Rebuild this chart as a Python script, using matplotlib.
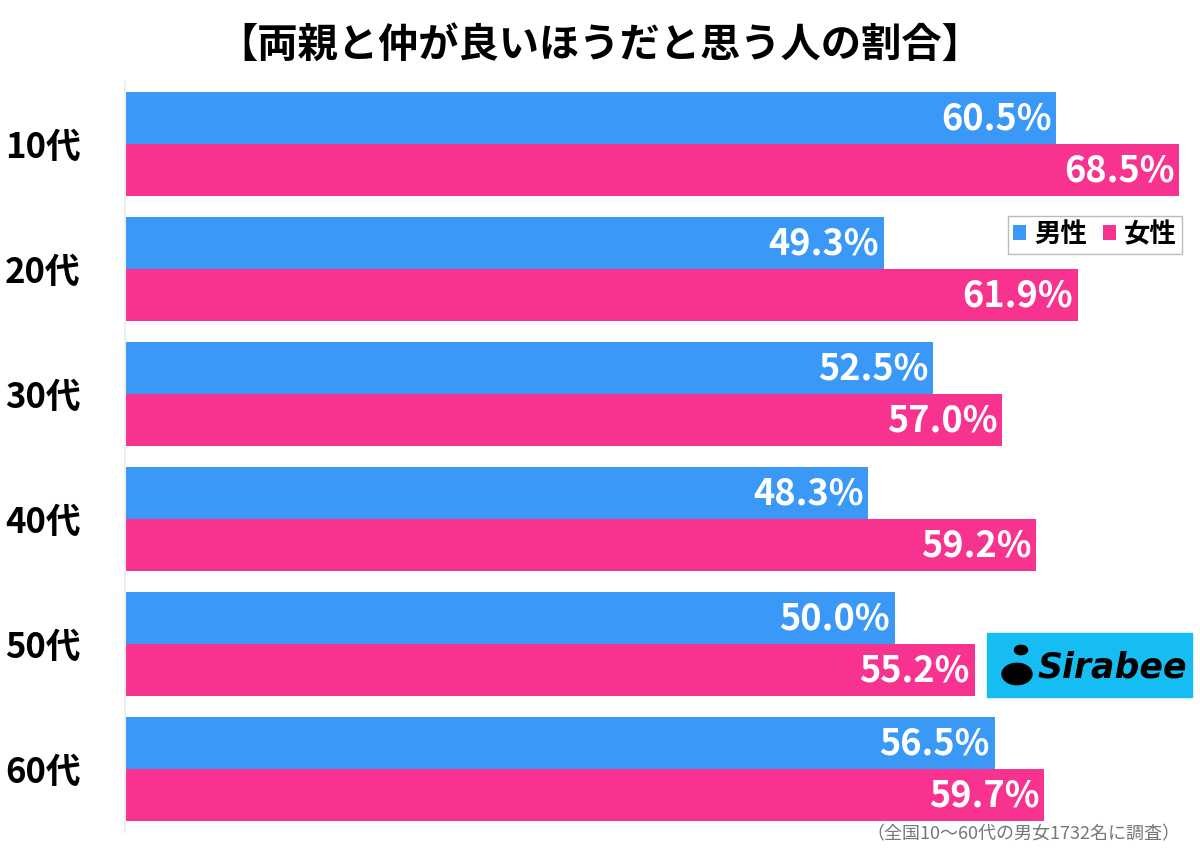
import matplotlib
matplotlib.use('Agg')
import matplotlib.pyplot as plt
from matplotlib.patches import Rectangle, Circle
import numpy as np

plt.rcParams['font.family'] = ['Noto Sans CJK JP', 'DejaVu Sans']

# データ
ages = ['10代', '20代', '30代', '40代', '50代', '60代']
male = [60.5, 49.3, 52.5, 48.3, 50.0, 56.5]
female = [68.5, 61.9, 57.0, 59.2, 55.2, 59.7]
title = '【両親と仲が良いほうだと思う人の割合】'
note = '（全国10～60代の男女1732名に調査）'

blue = '#3a98f7'
pink = '#f7338f'

fig = plt.figure(figsize=(12, 8.56), dpi=100)
ax = fig.add_axes([125 / 1200, 1 - 831.5 / 856, (1190 - 125) / 1200, 750 / 856])

y = np.arange(len(ages))
h = 0.416
ax.barh(y - h / 2, male, height=h, color=blue)
ax.barh(y + h / 2, female, height=h, color=pink)

for i in range(len(ages)):
    ax.text(male[i] - 0.3, y[i] - h / 2 + 0.01, f'{male[i]:.1f}%', color='white',
            ha='right', va='center', fontsize=26, fontweight='bold')
    ax.text(female[i] - 0.3, y[i] + h / 2 + 0.01, f'{female[i]:.1f}%', color='white',
            ha='right', va='center', fontsize=26, fontweight='bold')

ax.set_xlim(0, 69.2)
ax.set_ylim(5.5, -0.5)
ax.set_xticks([])
ax.set_yticks(y)
ax.set_yticklabels(ages, fontsize=25, fontweight='bold')
ax.tick_params(axis='y', length=0, pad=32)
for s in ['top', 'right', 'bottom']:
    ax.spines[s].set_visible(False)
ax.spines['left'].set_color('#eeeeee')
ax.spines['left'].set_linewidth(1.5)

fig.text(0.5, 1 - 45 / 856, title, ha='center', va='center', fontsize=29, fontweight='bold')
fig.text(1180 / 1200, 1 - 834 / 856, note, ha='right', va='center', fontsize=13, color='#777777')

# 凡例
leg = ax.legend(['男性', '女性'], loc='upper right', bbox_to_anchor=(1182 / 1200, 1 - 216 / 856),
                bbox_transform=fig.transFigure, prop={'weight': 'bold', 'size': 19},
                ncol=2, handlelength=0.5, handleheight=0.5, handletextpad=0.3, columnspacing=0.6,
                frameon=True, fancybox=False, edgecolor='#aaaaaa', borderpad=0.2,
                borderaxespad=0)

# ロゴ
fig.patches.append(Rectangle((987 / 1200, 1 - 697 / 856), 205 / 1200, 64 / 856,
                             transform=fig.transFigure, color='#16bdf2', zorder=5))
fig.patches.append(Circle((1017 / 1200, 1 - 674 / 856), 0.0125, transform=fig.transFigure,
                          color='black', zorder=6))
fig.patches.append(Circle((1021 / 1200, 1 - 650 / 856), 0.0055, transform=fig.transFigure,
                          color='black', zorder=6))
fig.text(1112 / 1200, 1 - 667 / 856, 'Sirabee', ha='center', va='center', fontsize=25,
         fontweight='bold', style='italic', family='DejaVu Sans', color='black', zorder=7)

fig.savefig('out.png', dpi=100, facecolor='white')
